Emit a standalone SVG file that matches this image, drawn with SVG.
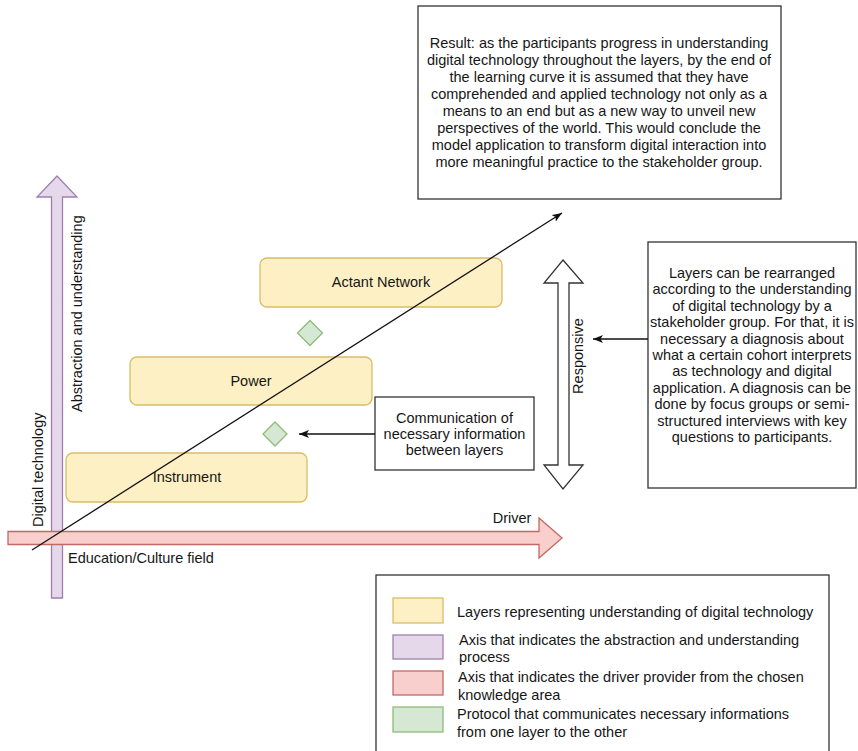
<svg xmlns="http://www.w3.org/2000/svg" width="858" height="751" viewBox="0 0 858 751">
  <style>
    text { font-family: "Liberation Sans", Arial, sans-serif; font-size: 14.5px; fill: #161616; }
    .mid { text-anchor: middle; }
    .box { fill: #ffffff; stroke: #333333; stroke-width: 1.3; }
    .layer { fill: #fdf0c4; stroke: #d9bd66; stroke-width: 1.3; }
    .proto { fill: #d5e8d4; stroke: #8fbb7a; stroke-width: 1.3; }
    .abstr { fill: #e4d8ea; stroke: #9f80ad; stroke-width: 1.3; }
    .drive { fill: #f8cfcd; stroke: #c06a66; stroke-width: 1.3; }
    .conn { fill: none; stroke: #111111; stroke-width: 1.3; }
  </style>
  <defs>
    <marker id="arrow" viewBox="0 0 10 8" refX="10" refY="4" markerWidth="10" markerHeight="8" markerUnits="userSpaceOnUse" orient="auto">
      <path d="M0,0 L10,4 L0,8 L2.5,4 Z" fill="#111111"/>
    </marker>
  </defs>

  <rect width="858" height="751" fill="#ffffff"/>

  <!-- vertical axis: abstraction and understanding -->
  <g id="axis-abstraction">
    <polygon class="abstr" points="57,176 77,197 62.5,197 62.5,598 51.5,598 51.5,197 37,197"/>
    <text transform="translate(82,412) rotate(-90)">Abstraction and understanding</text>
    <text transform="translate(43,527) rotate(-90)">Digital technology</text>
  </g>

  <!-- horizontal axis: driver -->
  <g id="axis-driver">
    <polygon class="drive" points="8,531.5 539,531.5 539,518 562,538 539,558 539,544.5 8,544.5"/>
    <text class="mid" x="512" y="523">Driver</text>
    <text x="68" y="563">Education/Culture field</text>
  </g>

  <!-- layers -->
  <g id="layer-actant">
    <rect class="layer" x="260" y="258" width="242" height="49" rx="7"/>
    <text class="mid" x="381" y="287">Actant Network</text>
  </g>
  <g id="layer-power">
    <rect class="layer" x="130" y="357" width="242" height="48" rx="7"/>
    <text class="mid" x="251" y="386">Power</text>
  </g>
  <g id="layer-instrument">
    <rect class="layer" x="66" y="453" width="241" height="49" rx="7"/>
    <text class="mid" x="187" y="482">Instrument</text>
  </g>

  <!-- protocols between layers -->
  <g id="protocol-upper">
    <polygon class="proto" points="310,320.5 322.5,333 310,345.5 297.5,333"/>
  </g>
  <g id="protocol-lower">
    <polygon class="proto" points="275,422 287,434 275,446 263,434"/>
  </g>

  <!-- responsive double arrow -->
  <g id="responsive">
    <polygon class="box" points="563,260 583,283 569,283 569,465 583,465 563,489 544,465 558,465 558,283 544,283"/>
    <text class="mid" transform="translate(583,356) rotate(-90)">Responsive</text>
  </g>

  <!-- notes -->
  <g id="note-result">
    <rect class="box" x="418" y="6" width="363" height="193"/>
    <text class="mid" x="599" y="48">Result: as the participants progress in understanding</text>
    <text class="mid" x="599" y="65">digital technology throughout the layers, by the end of</text>
    <text class="mid" x="599" y="82">the learning curve it is assumed that they have</text>
    <text class="mid" x="599" y="99">comprehended and applied technology not only as a</text>
    <text class="mid" x="599" y="116">means to an end but as a new way to unveil new</text>
    <text class="mid" x="599" y="133">perspectives of the world. This would conclude the</text>
    <text class="mid" x="599" y="150">model application to transform digital interaction into</text>
    <text class="mid" x="599" y="167">more meaningful practice to the stakeholder group.</text>
  </g>

  <g id="note-layers">
    <rect class="box" x="648" y="242" width="208" height="246"/>
    <text class="mid" x="752" y="278">Layers can be rearranged</text>
    <text class="mid" x="752" y="294.4">according to the understanding</text>
    <text class="mid" x="752" y="310.8">of digital technology by a</text>
    <text class="mid" x="752" y="327.2">stakeholder group. For that, it is</text>
    <text class="mid" x="752" y="343.6">necessary a diagnosis about</text>
    <text class="mid" x="752" y="360">what a certain cohort interprets</text>
    <text class="mid" x="752" y="376.4">as technology and digital</text>
    <text class="mid" x="752" y="392.8">application. A diagnosis can be</text>
    <text class="mid" x="752" y="409.2">done by focus groups or semi-</text>
    <text class="mid" x="752" y="425.6">structured interviews with key</text>
    <text class="mid" x="752" y="442">questions to participants.</text>
  </g>

  <g id="note-communication">
    <rect class="box" x="375" y="397" width="159" height="73"/>
    <text class="mid" x="454.5" y="423">Communication of</text>
    <text class="mid" x="454.5" y="439">necessary information</text>
    <text class="mid" x="454.5" y="455">between layers</text>
  </g>

  <!-- connectors -->
  <g id="connectors">
    <line class="conn" x1="32" y1="550" x2="562" y2="213" marker-end="url(#arrow)"/>
    <line class="conn" x1="375" y1="434" x2="299" y2="434" marker-end="url(#arrow)"/>
    <line class="conn" x1="648" y1="339" x2="593" y2="339" marker-end="url(#arrow)"/>
  </g>

  <!-- legend -->
  <g id="legend">
    <rect class="box" x="376" y="575" width="453" height="190"/>
    <rect class="layer" x="393" y="598" width="50" height="25"/>
    <rect class="abstr" x="393" y="635" width="50" height="24"/>
    <rect class="drive" x="393" y="671" width="50" height="24"/>
    <rect class="proto" x="393" y="707" width="50" height="25"/>
    <text x="457" y="617">Layers representing understanding of digital technology</text>
    <text x="459" y="645">Axis that indicates the abstraction and understanding</text>
    <text x="459" y="662">process</text>
    <text x="458" y="682">Axis that indicates the driver provider from the chosen</text>
    <text x="458" y="700">knowledge area</text>
    <text x="457" y="719">Protocol that communicates necessary informations</text>
    <text x="457" y="737">from one layer to the other</text>
  </g>
</svg>
